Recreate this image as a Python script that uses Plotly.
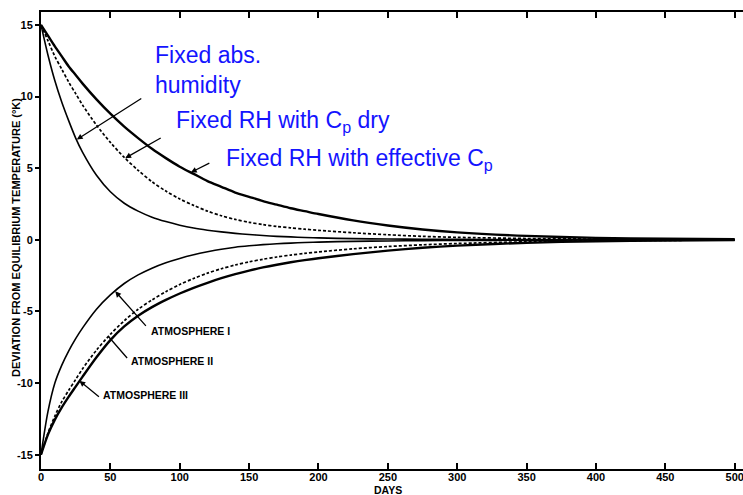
import plotly.graph_objects as go

# ---------------- data ----------------
days = [0, 5, 10, 15, 20, 25, 30, 40, 50, 60, 70, 80, 90, 100, 110, 120, 130, 140,
        150, 160, 170, 180, 190, 200, 225, 250, 275, 300, 350, 400, 450, 500]

# upper family (warm start)
fixed_abs_humidity = [15, 12.9, 11.1, 9.6, 8.3, 7.1, 6.1, 4.5, 3.35, 2.55, 2.0, 1.58, 1.27, 1.02,
                      0.82, 0.67, 0.55, 0.45, 0.37, 0.3, 0.24, 0.2, 0.16, 0.13, 0.08, 0.05,
                      0.04, 0.03, 0.02, 0.01, 0.0, 0.0]
fixed_rh_cp_dry = [15, 13.9, 12.8, 11.9, 11.0, 10.2, 9.4, 8.0, 6.8, 5.75, 4.85, 4.05, 3.4, 2.85,
                   2.4, 2.0, 1.68, 1.42, 1.22, 1.06, 0.93, 0.83, 0.74, 0.66, 0.49, 0.35,
                   0.24, 0.17, 0.09, 0.05, 0.03, 0.02]
fixed_rh_eff_cp = [15, 14.25, 13.5, 12.8, 12.1, 11.5, 10.9, 9.8, 8.8, 7.9, 7.1, 6.35, 5.7, 5.1,
                   4.6, 4.1, 3.7, 3.3, 3.0, 2.7, 2.45, 2.2, 2.0, 1.8, 1.35, 1.0,
                   0.72, 0.52, 0.27, 0.13, 0.07, 0.04]

# lower family (cold start)
atmosphere_1 = [-15, -12.0, -10.0, -8.75, -7.75, -6.9, -6.15, -4.85, -3.85, -3.05, -2.45, -1.98, -1.6, -1.3,
                -1.05, -0.84, -0.66, -0.52, -0.42, -0.34, -0.28, -0.23, -0.19, -0.16, -0.11, -0.08,
                -0.06, -0.05, -0.03, -0.02, -0.02, -0.02]
atmosphere_2 = [-15, -13.5, -12.3, -11.3, -10.5, -9.75, -9.0, -7.7, -6.6, -5.65, -4.85, -4.2, -3.62, -3.12,
                -2.7, -2.33, -2.02, -1.76, -1.54, -1.36, -1.2, -1.07, -0.95, -0.85, -0.63, -0.47,
                -0.35, -0.26, -0.14, -0.08, -0.04, -0.02]
atmosphere_3 = [-15, -13.6, -12.55, -11.7, -10.95, -10.25, -9.55, -8.2, -7.0, -6.05, -5.3, -4.7, -4.2, -3.75,
                -3.35, -3.0, -2.68, -2.4, -2.15, -1.93, -1.74, -1.57, -1.42, -1.29, -1.0, -0.76,
                -0.56, -0.41, -0.21, -0.1, -0.05, -0.02]

x_ticks = [0, 50, 100, 150, 200, 250, 300, 350, 400, 450, 500]
y_ticks = [-15, -10, -5, 0, 5, 10, 15]

blue_labels = ["Fixed abs.<br>humidity",
               "Fixed RH with C<sub>p</sub> dry",
               "Fixed RH with effective C<sub>p</sub>"]
atm_labels = ["ATMOSPHERE I", "ATMOSPHERE II", "ATMOSPHERE III"]

# ---------------- figure ----------------
W, H = 743, 495
L, R, T, B = 41, 0, 12, 26


def px_x(px):
    return (px - L) / (W - L - R)


def px_y(py):
    return (H - B - py) / (H - T - B)


fig = go.Figure()

series = [
    (fixed_abs_humidity, "solid", 1.6),
    (fixed_rh_cp_dry, "3px,2px", 1.7),
    (fixed_rh_eff_cp, "solid", 2.4),
    (atmosphere_1, "solid", 1.6),
    (atmosphere_2, "3px,2px", 1.7),
    (atmosphere_3, "solid", 2.4),
]
for vals, dash, w in series:
    fig.add_trace(go.Scatter(
        x=days, y=vals, mode="lines",
        line=dict(color="black", width=w, dash=dash, shape="spline", smoothing=0.8),
        showlegend=False, hoverinfo="skip"))

bold = dict(family="Liberation Sans, Arial, sans-serif", size=11, color="black")
ann = []

# blue labels
blue_font = dict(family="Liberation Sans, Arial, sans-serif", size=23, color="#1414ff")
blue_pos = [(153, 70.5), (174, 121.5), (224, 159)]
for txt, (bx, by) in zip(blue_labels, blue_pos):
    ann.append(dict(xref="paper", yref="paper", x=px_x(bx), y=px_y(by),
                    xanchor="left", yanchor="middle", align="left",
                    text=txt, showarrow=False, font=blue_font, bgcolor="white"))

# arrows for upper curves (head on curve, tail offset in px)
upper_arrows = [(25.8, 7.0, 66, -42), (60.7, 5.7, 37, -21), (108, 4.7, 20, -10)]
for hx, hy, ax, ay in upper_arrows:
    ann.append(dict(xref="x", yref="y", x=hx, y=hy, ax=ax, ay=ay, text="",
                    showarrow=True, arrowhead=2, arrowsize=0.9, arrowwidth=1.3,
                    arrowcolor="black"))

# atmosphere labels and leaders
atm_font = dict(family="Liberation Sans, Arial, sans-serif", size=10.5, color="black")
atm_pos = [(149, 331), (129, 361), (101, 395)]
for txt, (lx, ly) in zip(atm_labels, atm_pos):
    ann.append(dict(xref="paper", yref="paper", x=px_x(lx), y=px_y(ly),
                    xanchor="left", yanchor="middle", text="<b>%s</b>" % txt,
                    showarrow=False, font=atm_font))
lower_arrows = [(53.5, -3.6, 32, 36, 2), (48.6, -6.75, 20, 23, 0), (27.7, -9.85, 21, 17, 2)]
for hx, hy, ax, ay, head in lower_arrows:
    ann.append(dict(xref="x", yref="y", x=hx, y=hy, ax=ax, ay=ay, text="",
                    showarrow=True, arrowhead=head, arrowsize=0.9, arrowwidth=1.3,
                    arrowcolor="black"))

# axis titles
ann.append(dict(xref="paper", yref="paper", x=px_x(388), y=px_y(489.5),
                xanchor="center", yanchor="middle", text="<b>DAYS</b>",
                showarrow=False, font=dict(bold, size=10.5)))
ann.append(dict(xref="paper", yref="paper", x=px_x(16), y=px_y(238),
                xanchor="center", yanchor="middle", textangle=-90,
                text="<b>DEVIATION FROM EQUILIBRIUM TEMPERATURE (°K)</b>",
                showarrow=False, font=dict(bold, size=11)))

fig.update_layout(
    width=W, height=H,
    margin=dict(l=L, r=R, t=T, b=B, pad=0, autoexpand=False),
    paper_bgcolor="white", plot_bgcolor="white",
    annotations=ann,
)
fig.update_xaxes(
    range=[0, 506], tickvals=x_ticks, ticktext=["<b>%d</b>" % v for v in x_ticks],
    ticks="inside", ticklen=6, tickwidth=1.5, tickcolor="black",
    ticklabelstandoff=-3, ticklabeloverflow="allow",
    showline=True, linecolor="black", linewidth=2, mirror="ticks", automargin=False,
    showgrid=False, zeroline=False, tickfont=bold)
fig.update_yaxes(
    range=[-16.0, 15.9], tickvals=y_ticks, ticktext=["<b>%d</b>" % v for v in y_ticks],
    ticks="outside", ticklen=4, tickwidth=1.5, tickcolor="black",
    ticklabeloverflow="allow",
    showline=True, linecolor="black", linewidth=2, mirror=False, automargin=False,
    showgrid=False, zeroline=False, tickfont=bold)

fig.write_html("out.html", config={"displayModeBar": False},
               post_script="document.body.style.margin='0';document.body.style.overflow='hidden';")
